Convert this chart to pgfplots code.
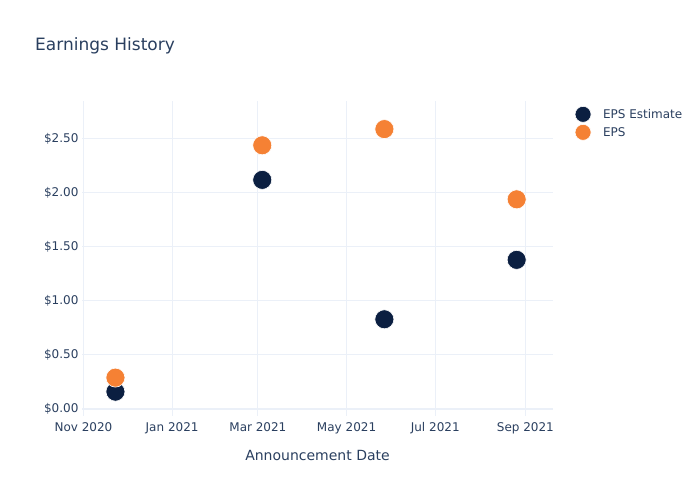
\documentclass[border=0pt]{standalone}
\usepackage{pgfplots}
\pgfplotsset{compat=1.18}
\usepackage{fontspec}
\setmainfont{DejaVu Sans}
\definecolor{txt}{HTML}{2A3F5F}
\definecolor{gridc}{HTML}{EBF0F8}
\definecolor{navy}{HTML}{0B1F41}
\definecolor{orng}{HTML}{F58134}
\begin{document}
\begin{tikzpicture}[x=1pt,y=1pt]
\useasboundingbox (0,0) rectangle (700,500);
\node[anchor=west, text=txt, font=\fontsize{17}{20}\selectfont, inner sep=0pt] at (35,454) {Earnings History};
\begin{axis}[at={(82pt,84pt)}, anchor=south west, scale only axis,
  width=471pt, height=315pt,
  xmin=-1, xmax=323, ymin=-0.065, ymax=2.85,
  axis line style={draw=none}, tick style={draw=none},
  xtick={0,61,120,181,242,304},
  xticklabels={Nov 2020,Jan 2021,Mar 2021,May 2021,Jul 2021,Sep 2021},
  ytick={0,0.5,1,1.5,2,2.5},
  yticklabels={\$0.00,\$0.50,\$1.00,\$1.50,\$2.00,\$2.50},
  extra y ticks={0}, extra y tick labels={},
  extra y tick style={grid style={gridc, line width=2pt}},
  grid=major, grid style={gridc, line width=1pt},
  ticklabel style={font=\fontsize{12}{14}\selectfont, text=txt},
  xticklabel style={yshift=-3pt},
  xlabel={Announcement Date},
  xlabel style={font=\fontsize{14}{16}\selectfont, text=txt, yshift=-9pt},
  legend style={at={(1.04,0.99)}, anchor=north west, draw=none, fill=none,
    font=\fontsize{12}{14}\selectfont, text=txt, row sep=2pt,
    nodes={inner xsep=6pt}},
  legend cell align=left,
  legend image code/.code={\draw[mark size=8pt, #1] plot coordinates {(0.25cm,0cm)};},
  clip=false,
]
\addplot[only marks, mark=*, mark size=9.5pt, color=navy, mark options={fill=navy, draw=white, line width=0.6pt}]
  coordinates {(22,0.16) (123,2.12) (207,0.83) (298,1.38)};
\addlegendentry{\hspace{6pt}EPS Estimate}
\addplot[only marks, mark=*, mark size=9.5pt, color=orng, mark options={fill=orng, draw=white, line width=0.6pt}]
  coordinates {(22,0.29) (123,2.44) (207,2.59) (298,1.94)};
\addlegendentry{\hspace{6pt}EPS}
\end{axis}
\end{tikzpicture}
\end{document}
